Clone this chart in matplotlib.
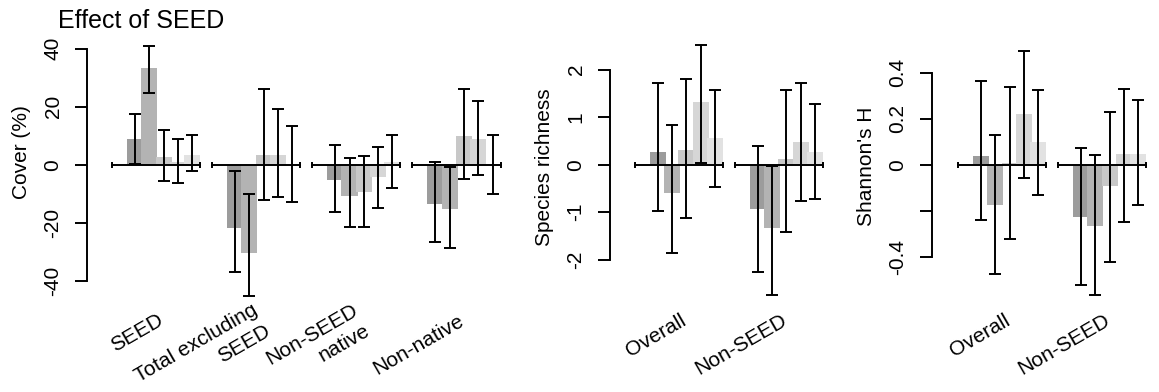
import matplotlib.pyplot as plt
from matplotlib.transforms import blended_transform_factory, offset_copy
import numpy as np

plt.rcParams['font.family'] = ['Liberation Sans', 'DejaVu Sans']

# ---- data (mean, lower CI, upper CI), 5 bars per group ----
cover_groups = ['SEED', 'Total excluding\nSEED', 'Non-SEED\nnative', 'Non-native']
cover_mean = [[9.0, 33.2, 2.8, 1.0, 3.4],
              [-22.0, -30.5, 3.4, 3.4, 0.0],
              [-5.2, -10.9, -9.5, -4.4, 1.0],
              [-13.7, -15.4, 10.0, 8.8, 0.2]]
cover_lo = [[0.3, 24.7, -5.6, -6.3, -2.3],
            [-37.1, -45.2, -12.2, -11.3, -13.0],
            [-16.2, -21.5, -21.5, -14.8, -8.2],
            [-26.6, -28.7, -5.0, -3.6, -10.2]]
cover_hi = [[17.5, 41.0, 12.0, 9.0, 10.2],
            [-2.3, -10.2, 26.0, 19.3, 13.4],
            [6.9, 2.3, 2.9, 6.2, 10.2],
            [1.0, -0.7, 26.0, 22.0, 10.2]]

div_groups = ['Overall', 'Non-SEED']
rich_mean = [[0.26, -0.60, 0.30, 1.31, 0.56],
             [-0.93, -1.33, 0.11, 0.47, 0.26]]
rich_lo = [[-0.97, -1.85, -1.13, 0.04, -0.48],
           [-2.25, -2.74, -1.41, -0.77, -0.73]]
rich_hi = [[1.73, 0.84, 1.80, 2.53, 1.57],
           [0.39, -0.03, 1.57, 1.73, 1.28]]

shan_mean = [[0.038, -0.174, 0.007, 0.220, 0.099],
             [-0.226, -0.265, -0.091, 0.045, 0.045]]
shan_lo = [[-0.242, -0.474, -0.325, -0.059, -0.133],
           [-0.525, -0.565, -0.424, -0.248, -0.174]]
shan_hi = [[0.364, 0.130, 0.339, 0.496, 0.323],
           [0.074, 0.041, 0.230, 0.329, 0.281]]

cover_ticks = [-40, -20, 0, 20, 40]
rich_ticks = [-2, -1, 0, 1, 2]
shan_ticks = [-0.4, -0.2, 0, 0.2, 0.4]
shan_ticklabels = ['-0.4', '', '0', '0.2', '0.4']

shades = ['#9c9c9c', '#b3b3b3', '#c8c8c8', '#d6d6d6', '#e2e2e2']

W, H = 1159, 392
STEP = 14.3   # pixels per bar
GAP = 7       # bar slots between group starts
FS = 15
LW = 1.4
ANG = 30
LINE_H = 17.5  # points between label lines

fig = plt.figure(figsize=(W / 100, H / 100), dpi=100)


def group_label(ax, x, text):
    # rotated label, one text per line so each line is right-aligned
    trans = blended_transform_factory(ax.transData, ax.transAxes)
    lines = text.split('\n')
    n = len(lines)
    for k, line in enumerate(lines):
        off = (k - (n - 1) / 2) * LINE_H
        t = offset_copy(trans, fig=fig, units='points',
                        x=off * np.sin(np.radians(ANG)),
                        y=-off * np.cos(np.radians(ANG)))
        ax.text(x, (300 - 319) / 270, line, transform=t, rotation=ANG,
                ha='right', va='center', rotation_mode='anchor', fontsize=FS)


def panel(x_axis, x0, x_right, zero_px, ppu, ticks, ticklabels,
          ylabel, ylab_xy, groups, mean, lo, hi):
    top, bottom = 30, 300
    ax = fig.add_axes([x_axis / W, 1 - bottom / H,
                       (x_right - x_axis) / W, (bottom - top) / H])
    ax.set_xlim((x_axis - x0) / STEP, (x_right - x0) / STEP)
    ax.set_ylim(-(bottom - zero_px) / ppu, (zero_px - top) / ppu)
    for g in range(len(groups)):
        xs = g * GAP + np.arange(5)
        m = np.array(mean[g])
        for i in range(5):
            ax.bar(xs[i], m[i], width=1.12, color=shades[i], lw=0, zorder=1)
        ends = [g * GAP - 1.6, g * GAP + 4.56]
        ax.plot(ends, [0, 0], color='k', lw=LW, zorder=2)
        ax.plot(ends, [0, 0], ls='none', marker='|', ms=4, mew=LW,
                color='k', zorder=2)
        ax.errorbar(xs, m, yerr=[m - np.array(lo[g]), np.array(hi[g]) - m],
                    fmt='none', ecolor='k', elinewidth=LW, capsize=4,
                    capthick=LW, zorder=3)
        group_label(ax, g * GAP + 1.9, groups[g])
    for s in ['top', 'right', 'bottom']:
        ax.spines[s].set_visible(False)
    ax.spines['left'].set_bounds(ticks[0], ticks[-1])
    ax.spines['left'].set_linewidth(LW)
    ax.set_xticks([])
    ax.set_yticks(ticks)
    ax.set_yticklabels(ticklabels, rotation=90, va='center', fontsize=FS)
    ax.tick_params(axis='y', length=8.6, width=LW, pad=9)
    fig.text(ylab_xy[0] / W, 1 - ylab_xy[1] / H, ylabel, rotation=90,
             ha='center', va='center', fontsize=FS)
    return ax


panel(87, 135, 505, 164.7, 2.9, cover_ticks, [str(t) for t in cover_ticks],
      'Cover (%)', (22, 152), cover_groups, cover_mean, cover_lo, cover_hi)
panel(610, 657.7, 825, 164.7, 47.5, rich_ticks, [str(t) for t in rich_ticks],
      'Species richness', (545, 167), div_groups, rich_mean, rich_lo, rich_hi)
panel(931.7, 981, 1152, 164.7, 230, shan_ticks, shan_ticklabels,
      "Shannon's H", (867, 166), div_groups, shan_mean, shan_lo, shan_hi)

fig.text(58 / W, 1 - 28 / H, 'Effect of SEED', fontsize=18, va='baseline')

fig.savefig('out.png', dpi=100)
